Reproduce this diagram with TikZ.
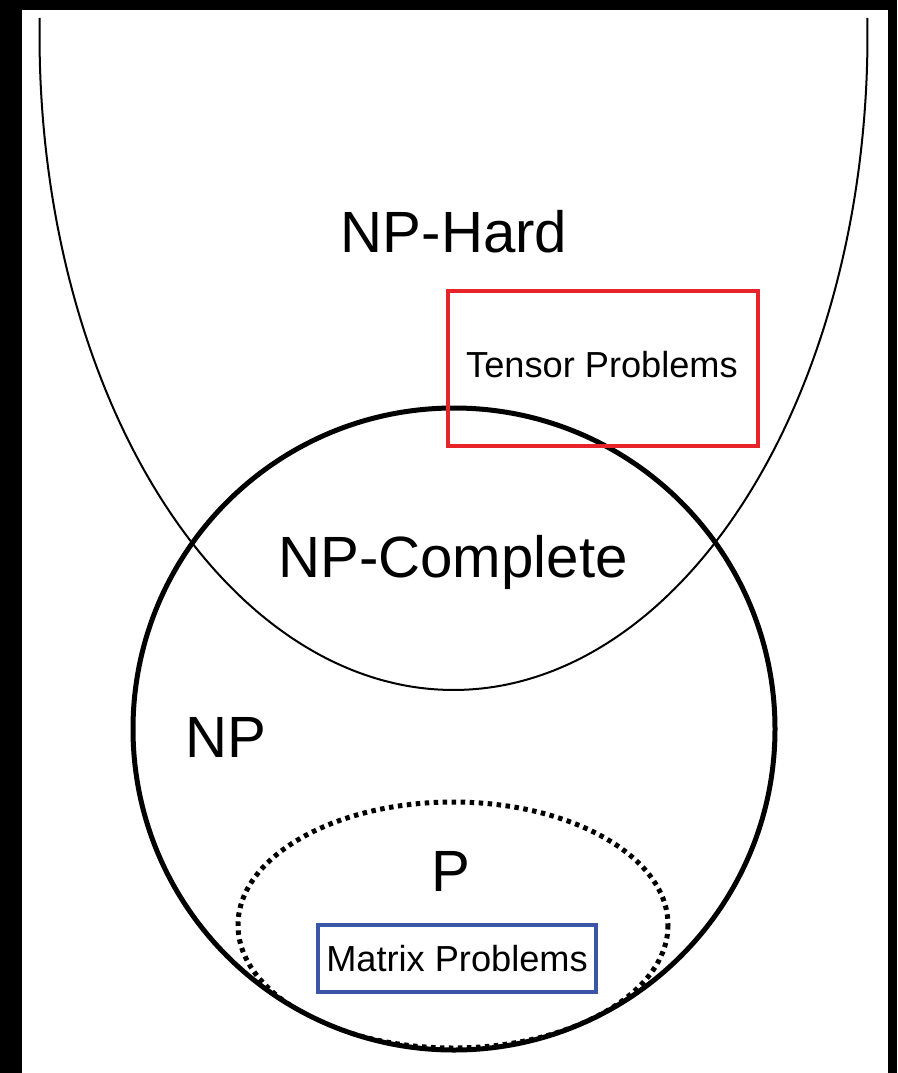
\documentclass[tikz,border=0pt]{standalone}
\usepackage{fontspec}
\setmainfont{Liberation Sans}
\definecolor{boxred}{HTML}{E8242B}
\definecolor{boxblue}{HTML}{3B56A6}
\begin{document}
\begin{tikzpicture}[x=1pt,y=-1pt,
  big/.style={font=\fontsize{58.2}{61}\selectfont, anchor=base, inner sep=0pt},
  small/.style={font=\fontsize{36.2}{39}\selectfont, anchor=base, inner sep=0pt},
  setline/.style={line width=5pt},
  hardline/.style={line width=2pt},
  dotline/.style={line width=5pt, dash pattern=on 4.5pt off 4.5pt},
  probbox/.style={line width=3.8pt}]
\useasboundingbox (0,0) rectangle (897,1073);
\fill[black] (0,0) rectangle (897,1073);
\fill[white] (22,10) rectangle (888,1073);
% NP-Hard
\draw[hardline] plot[domain=-1.49:181.49, samples=200, smooth] ({453.5+414*cos(\x)}, {35+655*sin(\x)});
% P (dotted)
\begin{scope}
  \clip (454,729) circle (321);
  \draw[dotline] (453,925) ellipse (215 and 123);
\end{scope}
% NP circle
\draw[setline] (454,729) circle (321);
% boxes
\draw[probbox, boxred] (448,291) rectangle (758,446);
\draw[probbox, boxblue] (318,925) rectangle (596,992);
% labels
\node[big] (nphard) at (454,252) {NP-Hard};
\node[big] (npc) at (453,577) {NP-Complete};
\node[big] (np) at (225.5,757) {NP};
\node[big] (p) at (451,891) {P};
\node[small] (tensor) at (602,377) {Tensor Problems};
\node[small] (matrix) at (457,971) {Matrix Problems};
\end{tikzpicture}
\end{document}
